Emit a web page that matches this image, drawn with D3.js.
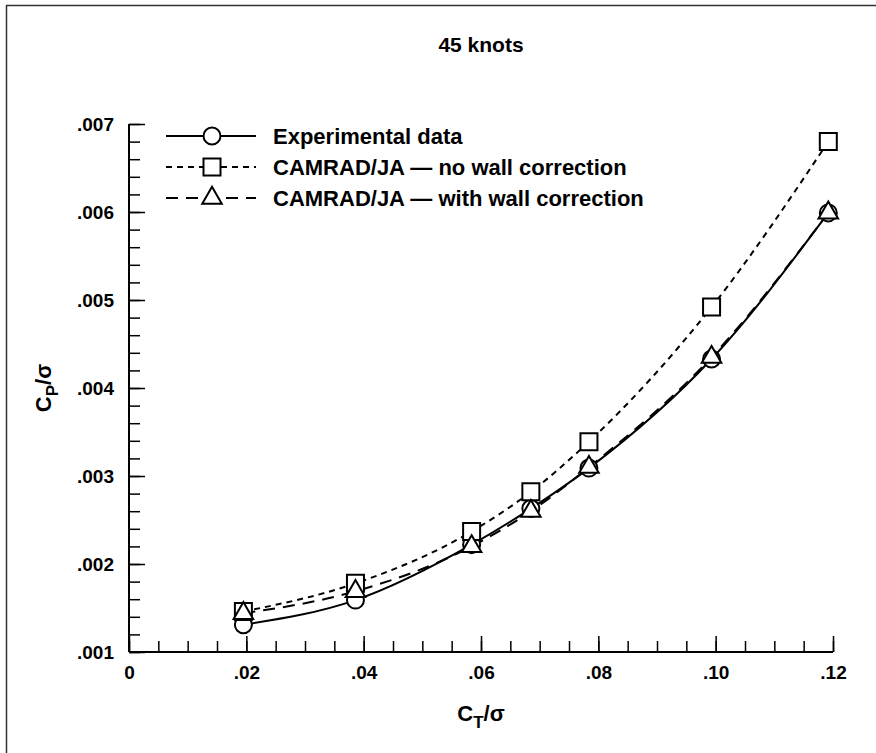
<!DOCTYPE html>
<html>
<head>
<meta charset="utf-8">
<script src="https://cdn.jsdelivr.net/npm/d3@7"></script>
<style>
  body { margin: 0; background: #fff; }
  svg text { font-family: "Liberation Sans", Arial, sans-serif; font-weight: bold; fill: #000; }
</style>
</head>
<body>
<div id="chart"></div>
<script>
// chart data
var ctSigma = [0.0195, 0.0386, 0.0584, 0.0685, 0.0784, 0.0993, 0.1192];
var experimental = [0.00131, 0.00159, 0.00222, 0.00263, 0.00309, 0.00433, 0.00599];
var noWallCorr = [0.00146, 0.00178, 0.00237, 0.00282, 0.00339, 0.00492, 0.00680];
var withWallCorr = [0.00144, 0.00169, 0.00220, 0.00260, 0.00310, 0.00435, 0.00599];
var seriesNames = ["Experimental data", "CAMRAD/JA \u2014 no wall correction", "CAMRAD/JA \u2014 with wall correction"];
var xTicks = [0, 0.02, 0.04, 0.06, 0.08, 0.10, 0.12];
var xTickLabels = ["0", ".02", ".04", ".06", ".08", ".10", ".12"];
var yTicks = [0.001, 0.002, 0.003, 0.004, 0.005, 0.006, 0.007];
var yTickLabels = [".001", ".002", ".003", ".004", ".005", ".006", ".007"];

var svgWidth = 876;
var svgHeight = 753;
var margin = {top: 124, right: 43, bottom: 101, left: 129};
var width = svgWidth - margin.left - margin.right;
var height = svgHeight - margin.top - margin.bottom;

var svg = d3.select("#chart")
    .append("svg")
    .attr("width", svgWidth)
    .attr("height", svgHeight);

// outer frame (runs off the right and bottom edges)
svg.append("rect")
    .attr("x", 6.5).attr("y", 5.5)
    .attr("width", 900).attr("height", 800)
    .attr("fill", "none")
    .attr("stroke", "#333")
    .attr("stroke-width", 1.5);

var chart = svg.append("g")
    .attr("transform", "translate(" + margin.left + "," + margin.top + ")");

var x = d3.scaleLinear().domain([0, 0.12]).range([0, width]);
var y = d3.scaleLinear().domain([0.001, 0.007]).range([height, 0]);

// minor ticks
var xMinor = d3.range(0, 0.1201, 0.005);
var yMinor = d3.range(0.001, 0.00701, 0.0002);

chart.append("g")
    .attr("transform", "translate(0," + height + ")")
    .call(d3.axisTop(x).tickValues(xMinor).tickSize(11).tickFormat(""))
    .call(function(g) { g.select(".domain").remove(); })
    .selectAll("line").attr("stroke-width", 1.5);

chart.append("g")
    .call(d3.axisRight(y).tickValues(yMinor).tickSize(11).tickFormat(""))
    .call(function(g) { g.select(".domain").remove(); })
    .selectAll("line").attr("stroke-width", 1.5);

// major ticks with labels
var xAxis = chart.append("g")
    .attr("transform", "translate(0," + height + ")")
    .call(d3.axisBottom(x).tickValues(xTicks).tickSize(0).tickPadding(14)
        .tickFormat(function(d, i) { return xTickLabels[i]; }));
xAxis.select(".domain").remove();
xAxis.selectAll("text").attr("font-size", 19).attr("dy", "0.71em");

chart.append("g")
    .attr("transform", "translate(0," + height + ")")
    .call(d3.axisTop(x).tickValues(xTicks).tickSize(16).tickFormat(""))
    .call(function(g) { g.select(".domain").remove(); })
    .selectAll("line").attr("stroke-width", 1.5);

var yAxis = chart.append("g")
    .call(d3.axisLeft(y).tickValues(yTicks).tickSize(0).tickPadding(15)
        .tickFormat(function(d, i) { return yTickLabels[i]; }));
yAxis.select(".domain").remove();
yAxis.selectAll("text").attr("font-size", 19);

chart.append("g")
    .call(d3.axisRight(y).tickValues(yTicks).tickSize(16).tickFormat(""))
    .call(function(g) { g.select(".domain").remove(); })
    .selectAll("line").attr("stroke-width", 1.5);

// axis lines
chart.append("line")
    .attr("x1", 0).attr("x2", width)
    .attr("y1", height).attr("y2", height)
    .attr("stroke", "#000").attr("stroke-width", 2);
chart.append("line")
    .attr("x1", 0).attr("x2", 0)
    .attr("y1", 0).attr("y2", height)
    .attr("stroke", "#000").attr("stroke-width", 2);

// series
var series = [
    {name: seriesNames[0], values: experimental, dash: null, marker: "circle"},
    {name: seriesNames[1], values: noWallCorr, dash: "6,5", marker: "square"},
    {name: seriesNames[2], values: withWallCorr, dash: "12,8", marker: "triangle"}
];

var line = d3.line()
    .x(function(d) { return x(d[0]); })
    .y(function(d) { return y(d[1]); })
    .curve(d3.curveMonotoneX);

series.forEach(function(s) {
    chart.append("path")
        .datum(ctSigma.map(function(c, i) { return [c, s.values[i]]; }))
        .attr("d", line)
        .attr("fill", "none")
        .attr("stroke", "#000")
        .attr("stroke-width", 2)
        .attr("stroke-dasharray", s.dash);
});

var symbols = {
    circle: d3.symbol().type(d3.symbolCircle).size(Math.PI * 8.5 * 8.5),
    square: d3.symbol().type(d3.symbolSquare).size(17 * 17),
    triangle: d3.symbol().type(d3.symbolTriangle).size(165)
};

series.forEach(function(s) {
    chart.selectAll(".pt-" + s.marker)
        .data(ctSigma.map(function(c, i) { return [c, s.values[i]]; }))
        .enter()
        .append("path")
        .attr("class", "pt-" + s.marker)
        .attr("d", symbols[s.marker])
        .attr("transform", function(d) { return "translate(" + x(d[0]) + "," + y(d[1]) + ")"; })
        .attr("fill", "#fff")
        .attr("stroke", "#000")
        .attr("stroke-width", 2);
});

// legend
var legend = svg.append("g").attr("transform", "translate(166,136)");
series.forEach(function(s, i) {
    var row = legend.append("g").attr("transform", "translate(0," + (i * 31) + ")");
    row.append("line")
        .attr("x1", 0).attr("x2", 90)
        .attr("stroke", "#000").attr("stroke-width", 2)
        .attr("stroke-dasharray", s.dash);
    row.append("path")
        .attr("d", symbols[s.marker])
        .attr("transform", "translate(46,0)")
        .attr("fill", "#fff")
        .attr("stroke", "#000")
        .attr("stroke-width", 2);
    row.append("text")
        .attr("x", 107)
        .attr("dy", "0.36em")
        .attr("font-size", 22)
        .text(s.name);
});

// title
svg.append("text")
    .attr("x", margin.left + width / 2)
    .attr("y", 52)
    .attr("text-anchor", "middle")
    .attr("font-size", 21)
    .text("45 knots");

// axis titles
var xt = svg.append("text")
    .attr("x", margin.left + width / 2)
    .attr("y", 721)
    .attr("text-anchor", "middle")
    .attr("font-size", 22);
xt.append("tspan").text("C");
xt.append("tspan").attr("font-size", 17).attr("dy", 7).text("T");
xt.append("tspan").attr("dy", -7).text("/\u03c3");

var yt = svg.append("text")
    .attr("transform", "translate(51," + (margin.top + height / 2) + ") rotate(-90)")
    .attr("text-anchor", "middle")
    .attr("font-size", 22);
yt.append("tspan").text("C");
yt.append("tspan").attr("font-size", 17).attr("dy", 7).text("P");
yt.append("tspan").attr("dy", -7).text("/\u03c3");
</script>
</body>
</html>
